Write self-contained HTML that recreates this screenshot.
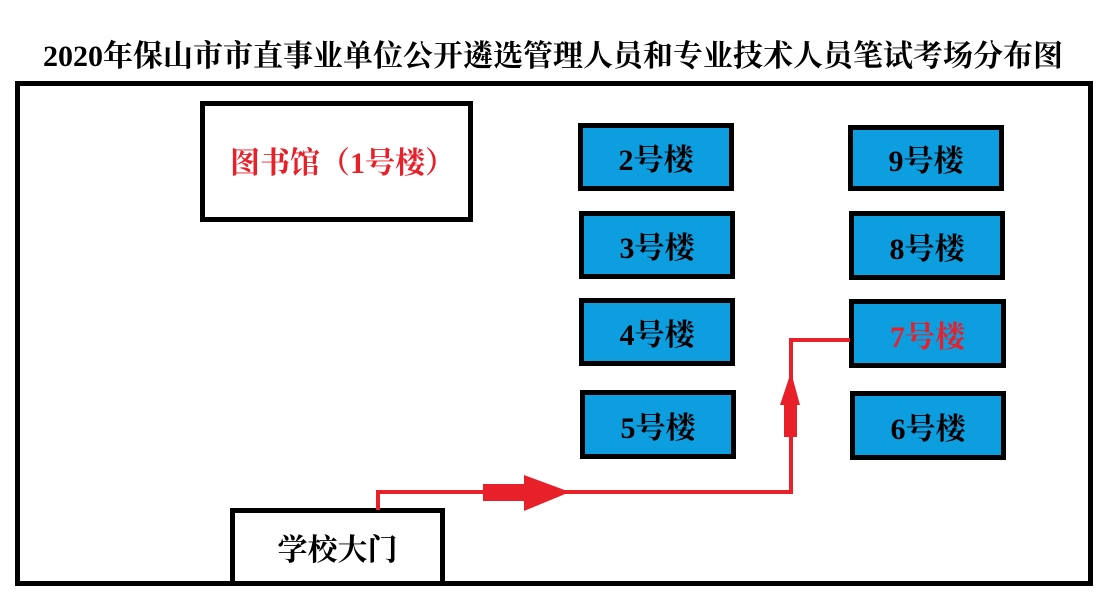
<!DOCTYPE html>
<html><head><meta charset="utf-8"><style>
body{margin:0;width:1112px;height:600px;background:#fff;position:relative;overflow:hidden;font-family:"Liberation Serif","Noto Serif CJK SC",serif;font-weight:bold}
.a{position:absolute;box-sizing:border-box}
.t{left:-3px;width:1112px;top:37px;text-align:center;font-size:30px;line-height:40px;color:#000;white-space:nowrap}
.b{border:5px solid #000;background:#0d9ee0;display:flex;align-items:center;justify-content:center;font-size:30px;color:#000}
</style></head><body>
<div class="a t">2020年保山市市直事业单位公开遴选管理人员和专业技术人员笔试考场分布图</div>
<div class="a" style="left:15px;top:81px;width:1078px;height:505px;border:5px solid #000"></div>
<div class="a" style="left:200px;top:101px;width:273px;height:121px;border:5px solid #000;display:flex;align-items:center;justify-content:center;font-size:30px;color:#e8202a;padding-left:12px;padding-bottom:4px">图书馆（1号楼）</div>
<div class="a b" style="left:578px;top:123px;width:156px;height:68px">2号楼</div>
<div class="a b" style="left:579px;top:211px;width:156px;height:68px">3号楼</div>
<div class="a b" style="left:579px;top:298px;width:156px;height:68px">4号楼</div>
<div class="a b" style="left:580px;top:390px;width:156px;height:69px">5号楼</div>
<div class="a b" style="left:848px;top:125px;width:156px;height:66px">9号楼</div>
<div class="a b" style="left:849px;top:211px;width:156px;height:69px">8号楼</div>
<div class="a b" style="left:849px;top:299px;width:157px;height:69px;color:#e8202a">7号楼</div>
<div class="a b" style="left:850px;top:391px;width:156px;height:69px">6号楼</div>
<div class="a" style="left:230px;top:508px;width:215px;height:78px;border:5px solid #000;display:flex;align-items:center;justify-content:center;font-size:30px;color:#000">学校大门</div>
<svg class="a" style="left:0;top:0" width="1112" height="600">
<polyline points="378,510 378,492 791,492 791,340 850,340" fill="none" stroke="#e8202a" stroke-width="4"/>
<rect x="483" y="484" width="44" height="17" fill="#e8202a"/>
<polygon points="524,475 570,492 524,511" fill="#e8202a"/>
<rect x="784" y="400" width="13" height="37" fill="#e8202a"/>
<polygon points="780,405 791,372 800,405" fill="#e8202a"/>
</svg>
</body></html>
